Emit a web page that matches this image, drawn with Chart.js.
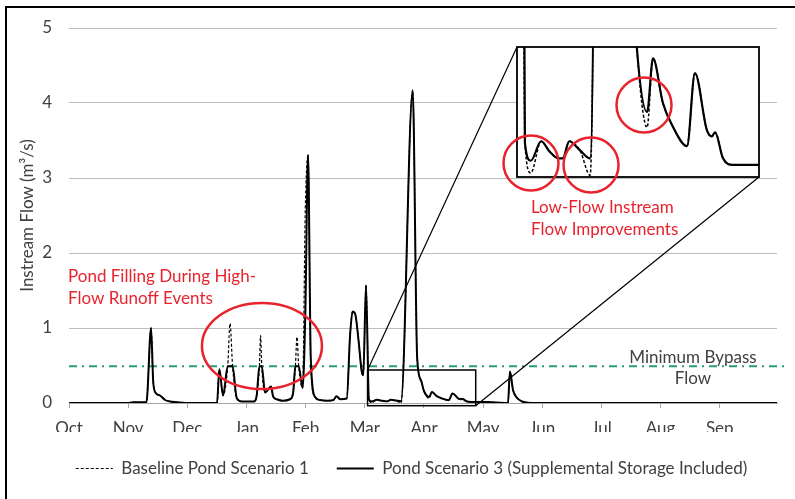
<!DOCTYPE html>
<html>
<head>
<meta charset="utf-8">
<script src="https://cdn.jsdelivr.net/npm/chart.js@4/dist/chart.umd.min.js"></script>
<style>
  html, body { margin: 0; padding: 0; background: #fff; overflow: hidden; }
  #wrap { position: relative; width: 795px; height: 499px; overflow: hidden; background: #fff; }
  canvas { position: absolute; left: 0; top: 0; }
  #frame { position: absolute; left: 5px; top: 6px; width: 830px; height: 530px;
           border: 2.5px solid #000; box-sizing: border-box; pointer-events: none; }
</style>
</head>
<body>
<div id="wrap">
  <canvas id="main" width="795" height="487"></canvas>
  <canvas id="zoom" width="795" height="487"></canvas>
  <div id="frame"></div>
</div>
<script>
// Water year, day 0 = 1 October
const monthLabels = ['Oct', 'Nov', 'Dec', 'Jan', 'Feb', 'Mar', 'Apr', 'May', 'Jun', 'Jul', 'Aug', 'Sep'];
const yTicks = [0, 1, 2, 3, 4, 5];
const minimumBypassFlow = 0.49;

const dayOfYear = [
  0, 30, 33, 39.8, 42.2, 43.3, 44.7, 46.8, 49.4, 51.9, 55.4, 60,
  76.1, 77.3, 79.2, 81.6, 82.8, 84.1, 86.2, 88.9, 92, 95.1,
  96.5, 97.9, 98.5, 99.1, 100.8, 103.9, 104.9, 106.8, 110, 113.6,
  115.2, 116.4, 117.2, 118.1, 120.1, 121.5, 122.9, 124.3, 126.5,
  129, 133, 136, 137.5, 139.5, 142.8, 144.5, 145.8, 147.2, 148.8,
  150.5, 151.3, 152.7, 154.2, 155.7, 158.3, 160.5, 162.6, 163.8,
  165.4, 168.1, 170.7, 176.7, 179, 181, 182.5, 185.1, 186.6, 189.1,
  191.4, 195.2, 197.2, 200.2, 201.5, 202.3, 204.3, 206.8, 213.4,
  217, 225.7, 226.7, 228.3, 230.3, 232.9, 236, 240, 364
];

// Pond Scenario 3 (supplemental storage included), m3/s
const pondScenario3 = [
  0, 0, 0.01, 0.01, 1.0, 0.28, 0.13, 0.1, 0.04, 0.02, 0.01, 0,
  0, 0.45, 0.1, 0.49, 0.49, 0.49, 0.07, 0.02, 0.02, 0.02,
  0.1, 0.49, 0.49, 0.49, 0.14, 0.22, 0.09, 0.05, 0.03, 0.05,
  0.13, 0.49, 0.49, 0.49, 0.2, 1.2, 3.31, 0.6, 0.08,
  0.04, 0.03, 0.04, 0.09, 0.05, 0.06, 0.9, 1.22, 1.18, 0.85,
  0.42, 0.37, 1.57, 0.042, 0.02, 0.044, 0.031, 0.023, 0.023,
  0.044, 0.033, 0.023, 4.17, 0.6, 0.3, 0.16, 0.08, 0.146, 0.091,
  0.064, 0.038, 0.128, 0.058, 0.05, 0.055, 0.023, 0.015, 0.015,
  0.01, 0, 0.42, 0.17, 0.07, 0.02, 0.005, 0, 0
];

// Baseline Pond Scenario 1, m3/s
const baselineScenario1 = [
  0, 0, 0.01, 0.01, 1.0, 0.28, 0.13, 0.1, 0.04, 0.02, 0.01, 0,
  0, 0.45, 0.1, 0.49, 1.06, 0.49, 0.07, 0.02, 0.02, 0.02,
  0.1, 0.49, 0.9, 0.49, 0.14, 0.22, 0.09, 0.05, 0.03, 0.05,
  0.13, 0.49, 0.88, 0.49, 0.2, 2.6, 3.3, 0.5, 0.08,
  0.04, 0.03, 0.04, 0.09, 0.05, 0.06, 0.9, 1.22, 1.18, 0.85,
  0.42, 0.37, 1.57, 0.042, 0.005, 0.044, 0.031, 0.023, 0.023,
  0.044, 0.033, 0.002, 4.17, 0.6, 0.3, 0.16, 0.061, 0.146, 0.091,
  0.064, 0.038, 0.128, 0.058, 0.05, 0.055, 0.023, 0.015, 0.015,
  0.01, 0, 0.42, 0.17, 0.07, 0.02, 0.005, 0, 0
];

const monthTickDays = monthLabels.map((_, i) => i * 365 / 12);
const toPoints = vals => dayOfYear.map((d, i) => ({ x: d, y: vals[i] }));

// Magnified window box on the page, and its data range
const INSET = { left: 517, top: 47, right: 759, bottom: 177 };
const insetDays = { min: 152.2, max: 213.4 };
const insetFlow = { min: 0, max: 0.16 };
const CANVAS_H = 487;

const RED = '#e8232d';
const TEXT = '#404040';
const FONT = "Lato, 'Open Sans', sans-serif";

Chart.defaults.font.family = FONT;
Chart.defaults.font.size = 17;
Chart.defaults.color = TEXT;

const seriesStyles = {
  baseline: { borderColor: '#000', borderWidth: 1.2, borderDash: [3, 2] },
  scenario3: { borderColor: '#000', borderWidth: 2 }
};

const mainAnnotations = {
  id: 'mainAnnotations',
  afterLayout(chart) {
    // legend sits centred between the y-axis title edge and the plot's right end
    if (chart.legend) chart.legend.left = 46;
  },
  afterDatasetsDraw(chart) {
    const { ctx, scales: { x, y } } = chart;
    ctx.save();

    // rectangle marking the magnified low-flow period
    const rx0 = x.getPixelForValue(153.5), rx1 = x.getPixelForValue(209.1);
    const ry0 = y.getPixelForValue(0.44), ry1 = y.getPixelForValue(-0.036);
    ctx.strokeStyle = '#000';
    ctx.lineWidth = 1.5;
    ctx.strokeRect(rx0, ry0, rx1 - rx0, ry1 - ry0);

    // leader lines to the magnified view
    ctx.lineWidth = 1.2;
    ctx.beginPath();
    ctx.moveTo(rx0, ry0); ctx.lineTo(INSET.left, INSET.top);
    ctx.moveTo(rx1, ry1); ctx.lineTo(INSET.right, INSET.bottom);
    ctx.stroke();

    // pond filling ellipse
    ctx.strokeStyle = RED;
    ctx.lineWidth = 2.5;
    ctx.beginPath();
    ctx.ellipse(x.getPixelForValue(99.2), y.getPixelForValue(0.76), 60, 43, 0, 0, Math.PI * 2);
    ctx.stroke();

    ctx.textBaseline = 'middle';
    ctx.font = '17px ' + FONT;
    ctx.fillStyle = RED;
    ctx.textAlign = 'left';
    ctx.fillText('Pond Filling During High-', x.getPixelForValue(-0.5), y.getPixelForValue(1.68));
    ctx.fillText('Flow Runoff Events', x.getPixelForValue(-0.5), y.getPixelForValue(1.39));
    ctx.fillText('Low-Flow Instream', x.getPixelForValue(237.5), y.getPixelForValue(2.6));
    ctx.fillText('Flow Improvements', x.getPixelForValue(237.5), y.getPixelForValue(2.307));

    ctx.fillStyle = TEXT;
    ctx.textAlign = 'center';
    ctx.fillText('Minimum Bypass', x.getPixelForValue(320.8), y.getPixelForValue(0.613));
    ctx.fillText('Flow', x.getPixelForValue(320.8), y.getPixelForValue(0.333));
    ctx.restore();
  }
};

// legend samples drawn as short lines carrying each series' own stroke style
const lineLegendLabels = chart =>
  Chart.defaults.plugins.legend.labels.generateLabels(chart)
    .filter(item => item.datasetIndex < 2)
    .map(item => {
      const ds = chart.data.datasets[item.datasetIndex];
      return { ...item, pointStyle: 'line', lineDash: ds.borderDash || [], lineWidth: ds.borderWidth,
               strokeStyle: ds.borderColor, fillStyle: ds.borderColor };
    });

new Chart(document.getElementById('main'), {
  type: 'line',
  data: {
    datasets: [
      { label: 'Baseline Pond Scenario 1', data: toPoints(baselineScenario1), ...seriesStyles.baseline,
        pointRadius: 0, cubicInterpolationMode: 'monotone' },
      { label: 'Pond Scenario 3 (Supplemental Storage Included)', data: toPoints(pondScenario3), ...seriesStyles.scenario3,
        pointRadius: 0, cubicInterpolationMode: 'monotone' },
      { label: 'Minimum Bypass Flow', data: [{ x: 0, y: minimumBypassFlow }, { x: 370, y: minimumBypassFlow }],
        borderColor: '#2a9a78', borderWidth: 1.8, borderDash: [8, 5, 2, 5], pointRadius: 0, clip: false }
    ]
  },
  options: {
    responsive: false,
    animation: false,
    devicePixelRatio: 1,
    layout: { padding: { left: 28, right: 18, top: 28, bottom: 0 } },
    scales: {
      x: {
        type: 'linear', min: 0, max: 364,
        afterBuildTicks: s => { s.ticks = monthTickDays.map(v => ({ value: v })); },
        afterFit: s => { s.height = 29; },
        ticks: { padding: 10, autoSkip: false, maxRotation: 0, callback: (v, i) => monthLabels[i] },
        grid: { drawOnChartArea: false, tickLength: 5, color: '#a6a6a6' },
        border: { color: '#a6a6a6', width: 1 }
      },
      y: {
        min: 0, max: 5,
        afterBuildTicks: s => { s.ticks = yTicks.map(v => ({ value: v })); },
        afterFit: s => { s.width = 41; },
        ticks: { padding: 17 },
        grid: { drawTicks: false, color: '#bcbcbc' },
        border: { display: false },
        title: { display: true, text: 'Instream Flow (m³/s)', padding: { top: -10.2, bottom: 0 } }
      }
    },
    plugins: {
      legend: {
        position: 'bottom',
        labels: { usePointStyle: true, pointStyle: 'line', pointStyleWidth: 37, padding: 28,
                  generateLabels: lineLegendLabels }
      },
      tooltip: { enabled: false }
    }
  },
  plugins: [mainAnnotations]
});

// Magnified view of March-April low flows
const insetFrame = {
  id: 'insetFrame',
  beforeDraw(chart) {
    const { ctx, chartArea: a } = chart;
    ctx.save();
    ctx.fillStyle = '#fff';
    ctx.fillRect(a.left, a.top, a.right - a.left, a.bottom - a.top);
    ctx.restore();
  },
  afterDraw(chart) {
    const { ctx, chartArea: a, scales: { x, y } } = chart;
    ctx.save();
    ctx.strokeStyle = '#000';
    ctx.lineWidth = 1.8;
    ctx.strokeRect(a.left, a.top, a.right - a.left, a.bottom - a.top);
    ctx.strokeStyle = RED;
    ctx.lineWidth = 2.5;
    [[155.74, 0.0172], [170.92, 0.0148], [184.32, 0.0886]].forEach(([d, v]) => {
      ctx.beginPath();
      ctx.arc(x.getPixelForValue(d), y.getPixelForValue(v), 27.5, 0, Math.PI * 2);
      ctx.stroke();
    });
    ctx.restore();
  }
};

new Chart(document.getElementById('zoom'), {
  type: 'line',
  data: {
    datasets: [
      { data: toPoints(baselineScenario1), ...seriesStyles.baseline, borderWidth: 1.5, pointRadius: 0, cubicInterpolationMode: 'monotone' },
      { data: toPoints(pondScenario3), ...seriesStyles.scenario3, borderWidth: 2.2, pointRadius: 0, cubicInterpolationMode: 'monotone' }
    ]
  },
  options: {
    responsive: false,
    animation: false,
    devicePixelRatio: 1,
    layout: { padding: { left: INSET.left, top: INSET.top, right: 795 - INSET.right, bottom: CANVAS_H - INSET.bottom } },
    scales: {
      x: { type: 'linear', min: insetDays.min, max: insetDays.max, display: false },
      y: { min: insetFlow.min, max: insetFlow.max, display: false }
    },
    plugins: { legend: { display: false }, tooltip: { enabled: false } }
  },
  plugins: [insetFrame]
});
</script>
</body>
</html>
